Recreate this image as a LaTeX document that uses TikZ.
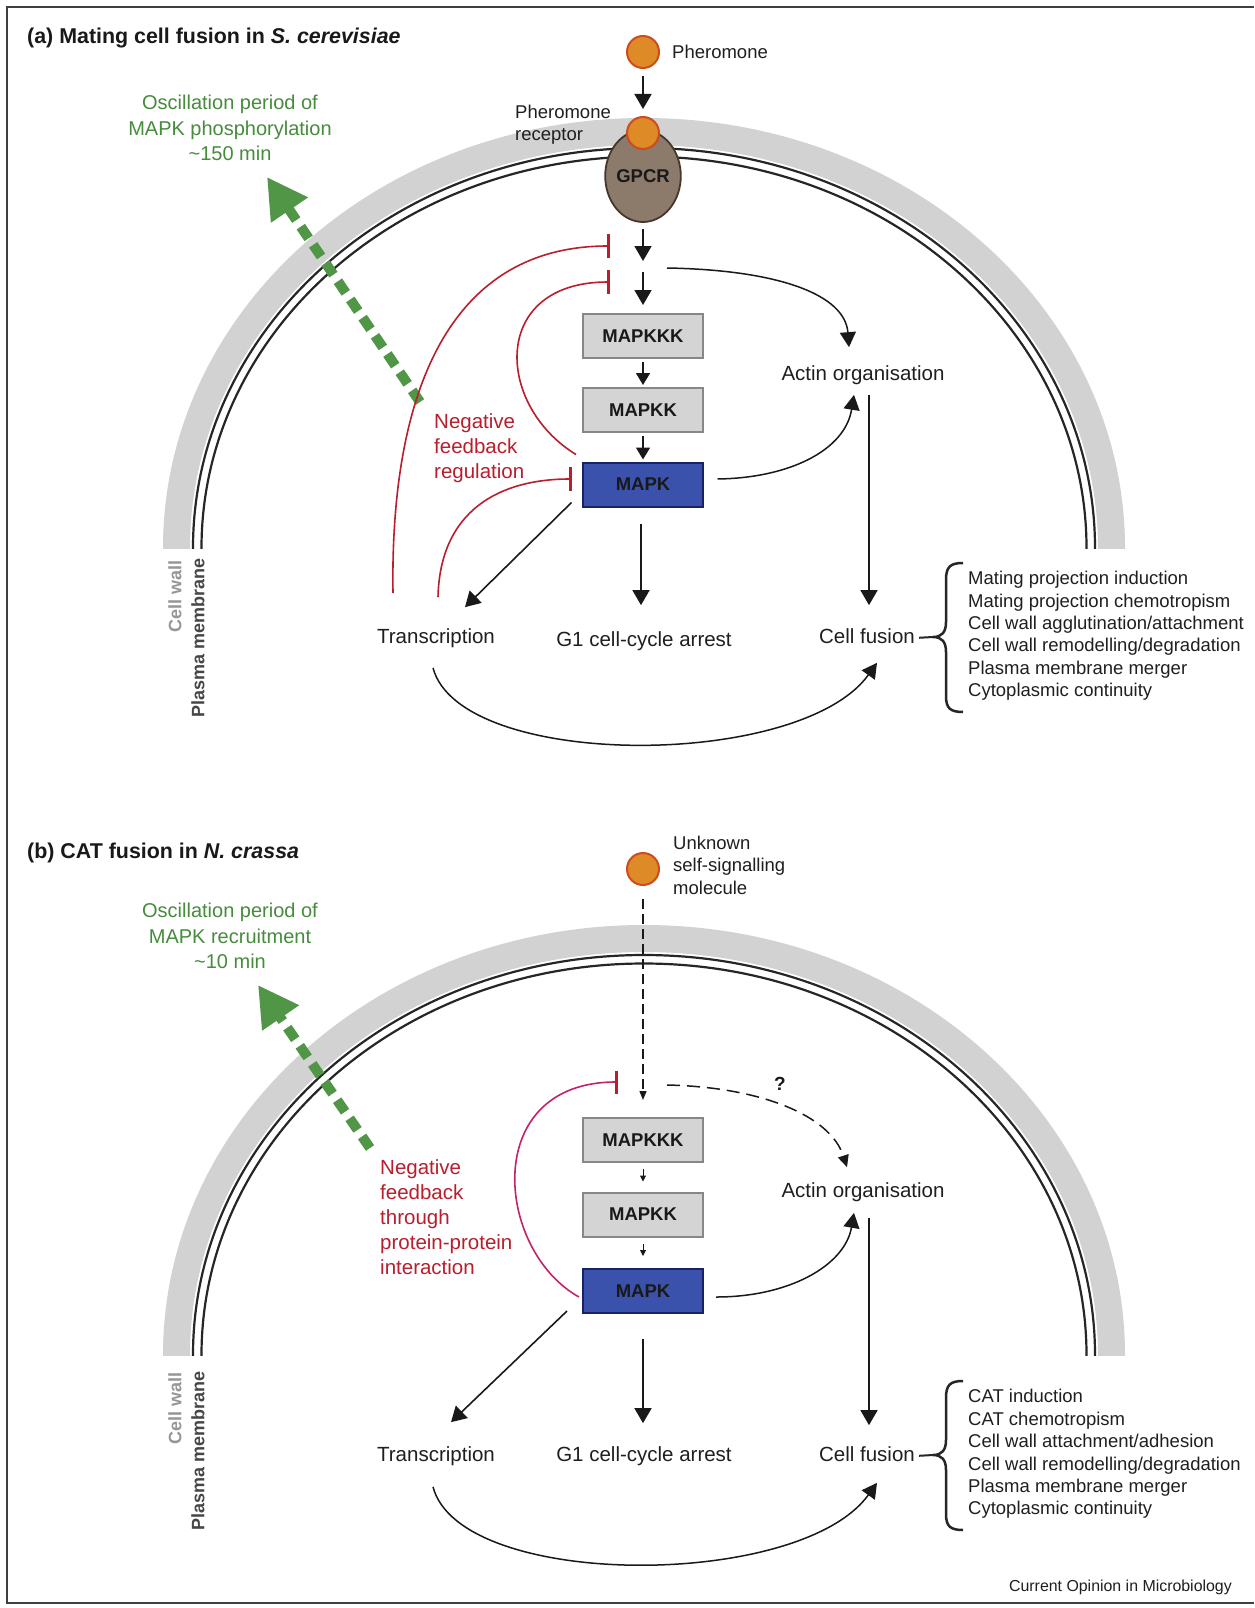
\documentclass[tikz,border=0pt]{standalone}
\usepackage{fontspec}
\setmainfont{Liberation Sans}
\usetikzlibrary{arrows.meta,shapes.geometric}
\definecolor{wallgray}{RGB}{210,210,210}
\definecolor{fbred}{RGB}{185,30,45}
\definecolor{fbmag}{RGB}{195,35,105}
\definecolor{oscgreen}{RGB}{70,140,60}
\definecolor{arrgreen}{RGB}{80,150,70}
\definecolor{ligandfill}{RGB}{222,138,38}
\definecolor{ligandedge}{RGB}{205,75,30}
\definecolor{gpcrfill}{RGB}{140,122,106}
\definecolor{gpcredge}{RGB}{70,55,45}
\definecolor{boxgray}{RGB}{212,212,212}
\definecolor{boxedge}{RGB}{135,135,135}
\definecolor{mapkblue}{RGB}{58,82,172}
\definecolor{mapkedge}{RGB}{25,35,100}
\definecolor{cwgray}{RGB}{150,150,150}
\definecolor{pmgray}{RGB}{70,70,70}
\tikzset{
  txt/.style={inner sep=0pt, text=black!88, font=\fontsize{20.5}{25}\selectfont},
  lbl/.style={txt, text height=15pt, text depth=4.3pt},
  smalltxt/.style={inner sep=0pt, text=black!88, font=\fontsize{18.5}{22.4}\selectfont},
  ligand/.style={circle, minimum size=32pt, inner sep=0pt, fill=ligandfill, draw=ligandedge, line width=2pt},
  kbox/.style={rectangle, minimum width=120pt, minimum height=44pt, inner sep=0pt, fill=boxgray, draw=boxedge, line width=2pt, font=\fontsize{18.5}{20}\selectfont\bfseries, text=black!90},
  mbox/.style={kbox, fill=mapkblue, draw=mapkedge},
  arr/.style={line width=1.6pt, draw=black!90, -{Triangle[length=15pt,width=17pt]}},
  sarr/.style={line width=1.6pt, draw=black!90, -{Triangle[length=12pt,width=14pt]}},
  tarr/.style={line width=1pt, draw=black!90, -{Triangle[length=6pt,width=6pt]}},
  carr/.style={line width=1.5pt, draw=black!90, -{Triangle[length=15pt,width=16pt]}},
  dasharr/.style={line width=1.3pt, draw=black!90, dash pattern=on 10pt off 5pt, -{Triangle[length=9pt,width=7pt]}},
  dasharrb/.style={line width=1.5pt, draw=black!90, dash pattern=on 13pt off 7pt, -{Triangle[length=12pt,width=11pt]}},
  fb/.style={line width=1.6pt, draw=fbred, -{Bar[width=24pt,line width=3pt]}},
  fbm/.style={line width=1.6pt, draw=fbmag, -{Bar[width=23pt,line width=3pt,color=fbred]}},
  grarr/.style={line width=10pt, draw=arrgreen, dash pattern=on 14pt off 8pt, -{Triangle[length=40pt,width=42pt,fill=arrgreen]}},
  membrane/.style={line width=2.2pt, draw=black!85},
  bracestroke/.style={line width=2.5pt, draw=black!85},
  osctext/.style={inner sep=0pt, text=oscgreen, align=center, font=\fontsize{20}{25.5}\selectfont},
  fbtext/.style={inner sep=0pt, text=fbred, align=left, anchor=west, font=\fontsize{20.5}{25}\selectfont},
  ttl/.style={inner sep=0pt, anchor=west, font=\fontsize{21.4}{25}\selectfont\bfseries, text=black!90},
  sidelbl/.style={inner sep=0pt, rotate=90, font=\fontsize{18}{20}\selectfont\bfseries},
  curly/.pic={\draw[bracestroke] (30,-74) .. controls (17,-74) and (13,-70) .. (13,-57) -- (13,-15) .. controls (13,-5) and (9,0) .. (0,0) .. controls (9,0) and (13,5) .. (13,15) -- (13,59) .. controls (13,71) and (17,75) .. (30,75);}
}
\begin{document}
\begin{tikzpicture}[x=1pt,y=-1pt]
\useasboundingbox (0,0) rectangle (1254,1608);
\fill[white] (0,0) rectangle (1254,1608);
\draw[line width=1.3pt, black!75] (1254,7) -- (7,7) -- (7,1603) -- (1254,1603);

% cell walls and membranes
\foreach \cy in {548,1355} {
  \begin{scope}[shift={(644,\cy)}]
    \clip (-495,-445) rectangle (495,0);
    \fill[wallgray, even odd rule] (0,0) ellipse[x radius=481, y radius=430] (0,0) ellipse[x radius=454, y radius=403];
    \draw[membrane] (0,0) ellipse[x radius=451, y radius=400];
    \draw[membrane] (0,0) ellipse[x radius=442.5, y radius=391.5];
  \end{scope}
}

% side labels
\node[sidelbl, text=cwgray] (cwA) at (175,596) {Cell wall};
\node[sidelbl, text=pmgray] (pmA) at (198,638) {Plasma membrane};
\node[sidelbl, text=cwgray] (cwB) at (175,1408) {Cell wall};
\node[sidelbl, text=pmgray] (pmB) at (198,1451) {Plasma membrane};

% green oscillation arrows
\coordinate (gA0) at (420,402);
\coordinate (gA1) at (267,177);
\draw[grarr] (gA0) -- (gA1);
\coordinate (gB0) at (370,1148);
\coordinate (gB1) at (258,985);
\draw[grarr] (gB0) -- (gB1);

% ================= panel a =================
\node[ttl] (titleA) at (27,38) {(a) Mating cell fusion in \textit{S. cerevisiae}};
\node[osctext] (oscA) at (230,128) {Oscillation period of\\MAPK phosphorylation\\\textasciitilde150 min};

\node[ligand] (pherA) at (643,52) {};
\node[smalltxt, anchor=west] (pherlblA) at (672,52) {Pheromone};
\node[ellipse, minimum width=62pt, minimum height=92pt, inner sep=0pt, fill=gpcrfill, draw=gpcredge, line width=1.8pt, font=\fontsize{18.5}{20}\selectfont\bfseries, text=black!90] (gpcrA) at (643,176) {GPCR};
\node[ligand] (recA) at (643,133) {};
\node[smalltxt, anchor=west, align=left] (reclblA) at (515,125) {Pheromone\\receptor};

\node[kbox] (mapkkkA) at (643,336) {MAPKKK};
\node[kbox] (mapkkA) at (643,410) {MAPKK};
\node[mbox] (mapkA) at (643,484.5) {MAPK};

\node[lbl] (actinA) at (863,375) {Actin organisation};
\node[lbl] (trA) at (436,638) {Transcription};
\node[lbl] (g1A) at (644,641) {G1 cell-cycle arrest};
\node[lbl] (cfA) at (867,638) {Cell fusion};
\node[fbtext] (nfA) at (434,448) {Negative\\feedback\\regulation};
\node[smalltxt, anchor=west, align=left] (listA) at (968,636) {Mating projection induction\\Mating projection chemotropism\\Cell wall agglutination/attachment\\Cell wall remodelling/degradation\\Plasma membrane merger\\Cytoplasmic continuity};

\draw[arr, shorten <=7pt, shorten >=7pt] (pherA) -- (recA);
\coordinate (midA) at (643,266);
\draw[arr, shorten <=6pt, shorten >=5pt] (gpcrA.south) -- (midA);
\draw[arr, shorten <=6pt, shorten >=8pt] (midA) -- (mapkkkA.north);
\draw[sarr, shorten <=3pt, shorten >=2pt] (mapkkkA.south) -- (mapkkA.north);
\draw[sarr, shorten <=3pt, shorten >=2pt] (mapkkA.south) -- (mapkA.north);

\coordinate (forkA) at (667,268);
\draw[carr] (forkA) .. controls (780,270) and (845,295) .. ([shift={(-14,-18)}]actinA.north);
\draw[carr] ([shift={(13.5,-5.5)}]mapkA.east) .. controls (790,478) and (845,450) .. ([shift={(-9,10)}]actinA.south);
\draw[arr] ([shift={(6,10.5)}]actinA.south) -- ([shift={(2,-23)}]cfA.north);
\draw[arr] ([shift={(-10.5,-5)}]mapkA.south west) -- ([shift={(29,-21)}]trA.north);
\draw[arr] ([shift={(-2,16)}]mapkA.south) -- ([shift={(-3,-26)}]g1A.north);
\draw[carr] ([shift={(-3,20)}]trA.south) .. controls (460,770) and (800,770) .. ([shift={(10,15)}]cfA.south);

\coordinate (inh1A) at (610,246);
\draw[fb] ([shift={(-43,-35)}]trA.north) .. controls (390,400) and (445,246) .. (inh1A);
\coordinate (inh2A) at (610,282);
\draw[fb] ([shift={(-6,-7)}]mapkA.north west) .. controls (495,405) and (490,282) .. (inh2A);
\draw[fb] ([shift={(2,-31)}]trA.north) .. controls (440,510) and (500,479) .. ([shift={(-10,-5.5)}]mapkA.west);

\coordinate (brA) at (933,637);
\pic at (brA) {curly};
\draw[line width=2pt, black!85, shorten <=4pt] (cfA.east) -- (brA);

% ================= panel b =================
\node[ttl] (titleB) at (27,853) {(b) CAT fusion in \textit{N. crassa}};
\node[osctext] (oscB) at (230,936) {Oscillation period of\\MAPK recruitment\\\textasciitilde10 min};

\node[ligand] (molB) at (643,869) {};
\node[smalltxt, anchor=west, align=left] (mollblB) at (673,865) {Unknown\\self-signalling\\molecule};

\node[kbox] (mapkkkB) at (643,1140) {MAPKKK};
\node[kbox] (mapkkB) at (643,1214.5) {MAPKK};
\node[mbox] (mapkB) at (643,1291) {MAPK};

\node[lbl] (actinB) at (863,1192) {Actin organisation};
\node[lbl] (trB) at (436,1456) {Transcription};
\node[lbl] (g1B) at (644,1456) {G1 cell-cycle arrest};
\node[lbl] (cfB) at (867,1456) {Cell fusion};
\node[fbtext] (nfB) at (380,1217) {Negative\\feedback\\through\\protein-protein\\interaction};
\node[smalltxt, anchor=west, align=left] (listB) at (968,1454) {CAT induction\\CAT chemotropism\\Cell wall attachment/adhesion\\Cell wall remodelling/degradation\\Plasma membrane merger\\Cytoplasmic continuity};
\node[inner sep=0pt, font=\fontsize{19}{20}\selectfont\bfseries, text=black!90] (qB) at (780,1084) {?};

\draw[dasharr, shorten <=13pt, shorten >=17pt] (molB) -- (mapkkkB.north);
\draw[tarr, shorten <=6pt, shorten >=10pt] (mapkkkB.south) -- (mapkkB.north);
\draw[tarr, shorten <=6pt, shorten >=12pt] (mapkkB.south) -- (mapkB.north);

\coordinate (forkB) at (667,1085);
\draw[dasharrb] (forkB) .. controls (760,1087) and (830,1115) .. ([shift={(-16,-15)}]actinB.north);
\draw[carr] ([shift={(12,6)}]mapkB.east) .. controls (790,1297) and (845,1265) .. ([shift={(-9,11)}]actinB.south);
\draw[arr] ([shift={(6,16)}]actinB.south) -- ([shift={(2,-21)}]cfB.north);
\draw[arr] ([shift={(-15,-3)}]mapkB.south west) -- ([shift={(15,-24)}]trB.north);
\draw[arr] ([shift={(0,24.5)}]mapkB.south) -- ([shift={(-1,-23)}]g1B.north);
\draw[carr] ([shift={(-3,21)}]trB.south) .. controls (460,1590) and (800,1590) .. ([shift={(10,17)}]cfB.south);

\coordinate (inhB) at (618,1082);
\draw[fbm] ([shift={(-3,6)}]mapkB.west) .. controls (495,1250) and (480,1082) .. (inhB);

\coordinate (brB) at (933,1455);
\pic at (brB) {curly};
\draw[line width=2pt, black!85, shorten <=4pt] (cfB.east) -- (brB);

\node[inner sep=0pt, anchor=east, font=\fontsize{15.9}{18}\selectfont, text=black!88] (credit) at (1232,1587) {Current Opinion in Microbiology};
\end{tikzpicture}
\end{document}
